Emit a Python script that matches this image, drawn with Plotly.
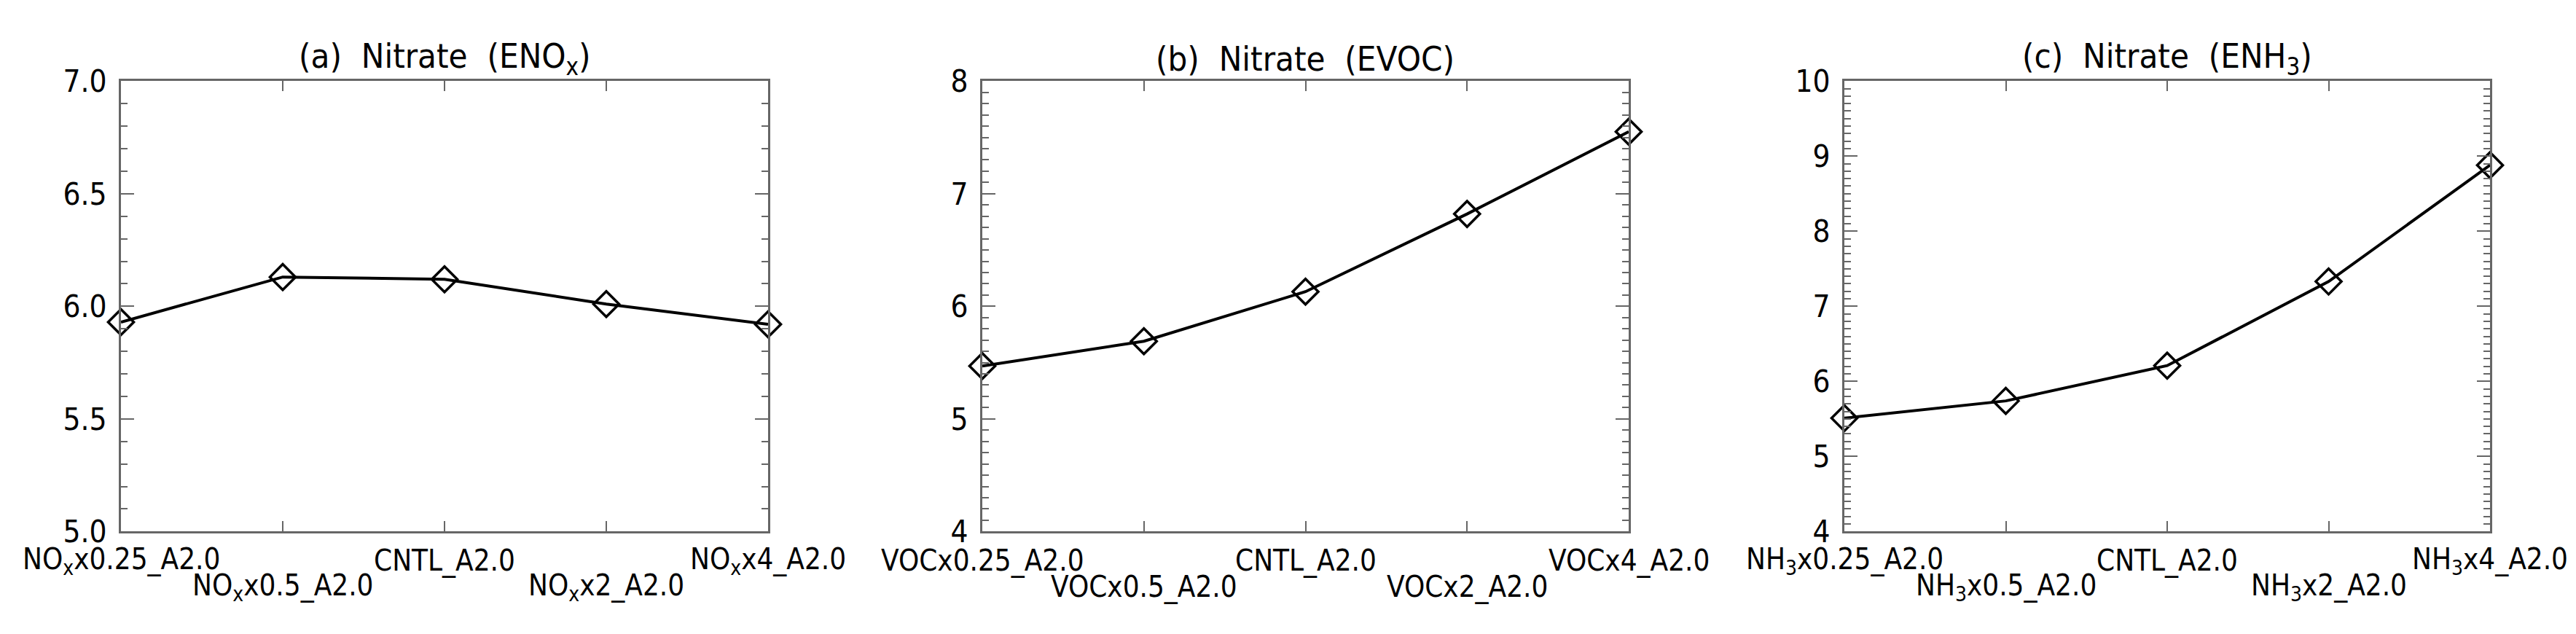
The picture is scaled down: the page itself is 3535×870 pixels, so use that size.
import plotly.graph_objects as go

# nitrate response to emission scaling
nox_labels = ['NO<sub>x</sub>x0.25_A2.0', 'NO<sub>x</sub>x0.5_A2.0', 'CNTL_A2.0',
              'NO<sub>x</sub>x2_A2.0', 'NO<sub>x</sub>x4_A2.0']
voc_labels = ['VOCx0.25_A2.0', 'VOCx0.5_A2.0', 'CNTL_A2.0', 'VOCx2_A2.0', 'VOCx4_A2.0']
nh3_labels = ['NH<sub>3</sub>x0.25_A2.0', 'NH<sub>3</sub>x0.5_A2.0', 'CNTL_A2.0',
              'NH<sub>3</sub>x2_A2.0', 'NH<sub>3</sub>x4_A2.0']

nox_values = [5.93, 6.13, 6.12, 6.01, 5.92]
voc_values = [5.47, 5.69, 6.13, 6.82, 7.55]
nh3_values = [5.51, 5.74, 6.21, 7.33, 8.88]

titles = ['(a)  Nitrate  (ENO<sub>x</sub>)', '(b)  Nitrate  (EVOC)', '(c)  Nitrate  (ENH<sub>3</sub>)']
y_ranges = [[5.0, 7.0], [4, 8], [4, 10]]
y_dticks = [0.5, 1, 1]
y_formats = ['.1f', 'd', 'd']

W, H = 3535, 870
FONT = 'DejaVu Sans Condensed, DejaVu Sans, sans-serif'
AXCOL = '#666666'

# panel positions in pixels (left, right), shared top/bottom
panels = [(158, 1046), (1340, 2227), (2523, 3409)]
top_px, bot_px = 84, 739

fig = go.Figure()
all_labels = [nox_labels, voc_labels, nh3_labels]
all_values = [nox_values, voc_values, nh3_values]

for k in range(3):
    xa = 'x' if k == 0 else 'x%d' % (k + 1)
    ya = 'y' if k == 0 else 'y%d' % (k + 1)
    idx = list(range(len(all_values[k])))
    fig.add_trace(go.Scatter(x=idx, y=all_values[k], xaxis=xa, yaxis=ya,
                             mode='lines+markers', cliponaxis=False,
                             line=dict(color='black', width=4),
                             marker=dict(symbol='diamond-open', size=27,
                                         color='black', line=dict(width=3.5, color='black')),
                             showlegend=False))

    l, r = panels[k]
    xkey = 'xaxis' if k == 0 else 'xaxis%d' % (k + 1)
    ykey = 'yaxis' if k == 0 else 'yaxis%d' % (k + 1)
    fig.layout[xkey] = dict(domain=[l / W, r / W], range=[0, 4], anchor=ya,
                            tickvals=idx, showticklabels=False,
                            ticks='inside', ticklen=14, tickwidth=2, tickcolor=AXCOL,
                            showline=True, linecolor=AXCOL, linewidth=3,
                            mirror='allticks', showgrid=False, zeroline=False)
    fig.layout[ykey] = dict(domain=[1 - bot_px / H, 1 - top_px / H], range=y_ranges[k],
                            anchor=xa, dtick=y_dticks[k], tick0=0, tickformat=y_formats[k],
                            ticks='inside', ticklen=18, tickwidth=2, tickcolor=AXCOL,
                            minor=dict(dtick=0.1, ticks='inside', ticklen=9,
                                       tickwidth=2, tickcolor=AXCOL),
                            showline=True, linecolor=AXCOL, linewidth=3,
                            mirror='allticks', showgrid=False, zeroline=False,
                            ticklabelstandoff=8,
                            tickfont=dict(family=FONT, size=42, color='black'))

    # panel title
    fig.add_annotation(text=titles[k], xref='paper', yref='paper',
                       x=(l + r) / 2 / W, y=1 - 51 / H, xanchor='center', yanchor='middle',
                       showarrow=False, font=dict(family=FONT, size=47, color='black'))

    # staggered category labels under the x axis
    for i, lab in enumerate(all_labels[k]):
        ypx = 782 if i % 2 == 0 else 820
        fig.add_annotation(text=lab, xref=xa, yref='paper', x=i, y=1 - ypx / H,
                           xanchor='center', yanchor='middle', showarrow=False,
                           font=dict(family=FONT, size=40, color='black'))

fig.update_layout(width=W, height=H, autosize=False,
                  margin=dict(l=0, r=0, t=0, b=0),
                  paper_bgcolor='white', plot_bgcolor='white')

fig.write_html("out.html")
